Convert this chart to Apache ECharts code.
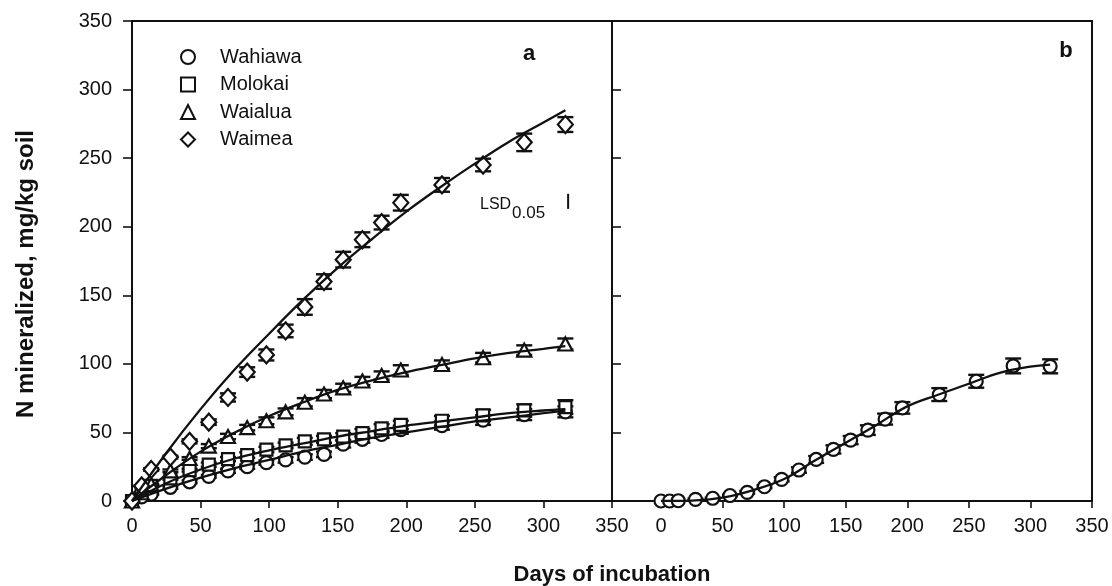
<!DOCTYPE html>
<html><head><meta charset="utf-8">
<script src="https://cdn.jsdelivr.net/npm/echarts@6/dist/echarts.min.js"></script>
<style>html,body{margin:0;padding:0;background:#fff}#c{width:1112px;height:586px}</style>
</head><body><div id="c"></div>
<script>
// ---- data ----
const days = [0,7,14,28,42,56,70,84,98,112,126,140,154,168,182,196,226,256,286,316];
const wahiawa = [0,3,5,10,14,18,22,25,28,30,32,34,41.5,45,48.5,52,55,59,63,65];
const molokai = [0,6,11,16.5,22.5,26.5,30.5,33.5,37.5,40.5,43.5,45,47,49.5,53,55.5,58.5,62.5,66,68.5];
const waialua = [0,6,12,22,31,40,47,53.5,58.5,65,72,78,82.5,87.5,91.5,95.5,99.5,104.5,110,114.5];
const waimea = [0,11,23,32,43.5,57.5,75.5,94,106.5,124,141.5,160,176,190.5,203,217.5,230.5,245,261.5,274.5];
const honokaa = [0,0,0.2,1.2,2,4,6.3,10.4,15.8,22.6,30.3,37.6,44.4,51.7,59.7,67.9,77.6,87.3,98.5,98.2];

const wahiawaErr = [0,0.5,0.5,1,1,1,1.5,1.5,1.5,2,2,2,2.5,2.5,2.5,3,3,3.5,4,4];
const molokaiErr = [0,0.5,0.5,1,1,1.5,1.5,2,2,2,2.5,2.5,2.5,3,3,3,3.5,4,4.5,5];
const waialuaErr = [0,0.5,0.5,1,1,1.5,2,2,2.5,2.5,3,3,3,3,3,3.5,3,3.5,3.5,4];
const waimeaErr = [0,0.5,1,1,1.5,2,3,3.5,4,4.6,5.7,5.3,5.7,5.4,5,5.7,5,4.6,6.4,5.4];
const honokaaErr = [0,0,0,0.5,0.5,0.5,1,1,1.5,2,2.5,3,3,3.5,4,4.2,4.7,4.7,5.4,5.1];

const curveDays = [0,25,50,75,100,125,150,175,200,225,250,275,300,316];
const wahiawaFit = [0,9,17,24,30,36,41,46,50,54,58,61,64,66];
const molokaiFit = [0,13,23,31,37,42,47,51,55,58,61,64,66,67];
const waialuaFit = [0,19,36,50,62,72,81,88,94,99,104,108,111,113];
const waimeaFit = [0,35,67,96,122,147,170,191,211,229,246,262,276,285];
const honokaaFit = [0,0.3,2.5,8,16,29.5,42.5,55.5,69,77.5,85.5,93.5,98,99.5];

const lsdBar = [[318, 218.5, 5.5]]; // day, centre, half-length

const xTicks = [0,50,100,150,200,250,300,350];
const yTicks = [0,50,100,150,200,250,300,350];

// ---- chart ----
const FONT = '"Liberation Sans", Arial, sans-serif';
const INK = '#111';
const chart = echarts.init(document.getElementById('c'));

function pairs(xs, ys){ return xs.map((x,i)=>[x, ys[i]]); }

function errSeries(xi, vals, errs){
  return {
    type:'custom', xAxisIndex:xi, yAxisIndex:xi, z:2, silent:true,
    data: days.map((d,i)=>[d, vals[i], errs[i]]),
    encode:{x:0, y:1},
    renderItem:(params, api)=>{
      const x = api.value(0), y = api.value(1), e = api.value(2);
      if (!e) return null;
      const t = api.coord([x, y+e]), b = api.coord([x, y-e]);
      const hw = 8;
      const st = {stroke:INK, lineWidth:2.4};
      return {type:'group', children:[
        {type:'line', shape:{x1:t[0],y1:t[1],x2:b[0],y2:b[1]}, style:st},
        {type:'line', shape:{x1:t[0]-hw,y1:t[1],x2:t[0]+hw,y2:t[1]}, style:st},
        {type:'line', shape:{x1:b[0]-hw,y1:b[1],x2:b[0]+hw,y2:b[1]}, style:st}
      ]};
    }
  };
}
function pts(name, xi, vals, symbol, size){
  return {
    name, type:'scatter', xAxisIndex:xi, yAxisIndex:xi, z:3, silent:true,
    symbol, symbolSize:size,
    itemStyle:{color:'#fff', borderColor:INK, borderWidth:2.2, opacity:1},
    data: pairs(days, vals)
  };
}
function fit(xi, vals){
  return {
    type:'line', xAxisIndex:xi, yAxisIndex:xi, z:4, silent:true,
    smooth:0.4, showSymbol:false, symbol:'none',
    lineStyle:{color:INK, width:2.3},
    data: pairs(curveDays, vals)
  };
}

const axisLabel = {fontSize:20, color:INK, fontFamily:FONT};
const lineSt = {color:INK, width:2};

const option = {
  animation:false,
  backgroundColor:'#fff',
  grid:[
    {left:132, top:21, width:480, height:480, show:true, borderColor:INK, borderWidth:2, backgroundColor:'transparent'},
    {left:612, top:21, width:480, height:480, show:true, borderColor:INK, borderWidth:2, backgroundColor:'transparent'},
    {left:661, top:21, width:431, height:480, show:false}
  ],
  xAxis:[
    {gridIndex:0, type:'value', min:xTicks[0], max:xTicks[xTicks.length-1], interval:50,
     axisLine:{show:true, onZero:false, lineStyle:lineSt}, axisTick:{show:true, length:7, lineStyle:{color:INK,width:1.6}},
     axisLabel:Object.assign({margin:15}, axisLabel), splitLine:{show:false}},
    {gridIndex:1, type:'value', min:-40, max:350,
     axisLine:{show:true, onZero:false, lineStyle:lineSt}, axisTick:{show:false}, axisLabel:{show:false}, splitLine:{show:false}},
    {gridIndex:2, type:'value', min:xTicks[0], max:xTicks[xTicks.length-1], interval:50,
     axisLine:{show:false, onZero:false}, axisTick:{show:true, length:7, lineStyle:{color:INK,width:1.6}},
     axisLabel:Object.assign({margin:15}, axisLabel), splitLine:{show:false}}
  ],
  yAxis:[
    {gridIndex:0, type:'value', min:yTicks[0], max:yTicks[yTicks.length-1], interval:50,
     axisLine:{show:true, onZero:false, lineStyle:lineSt}, axisTick:{show:true, length:9, lineStyle:{color:INK,width:1.6}},
     axisLabel:Object.assign({margin:20}, axisLabel), splitLine:{show:false}},
    {gridIndex:1, type:'value', min:yTicks[0], max:yTicks[yTicks.length-1], interval:50,
     axisLine:{show:true, onZero:false, lineStyle:lineSt}, axisTick:{show:true, inside:true, length:9, lineStyle:{color:INK,width:1.6}},
     axisLabel:{show:false}, splitLine:{show:false}},
    {gridIndex:2, type:'value', min:yTicks[0], max:yTicks[yTicks.length-1], show:false, axisLine:{onZero:false}}
  ],
  legend:{
    data:['Wahiawa','Molokai','Waialua','Waimea'],
    orient:'vertical', left:175, top:42, itemWidth:14, itemHeight:14, itemGap:7.5,
    selectedMode:false,
    formatter: n => '{g|}' + n,
    textStyle:{fontSize:20, color:INK, fontFamily:FONT, rich:{g:{width:20}}}
  },
  graphic:[
    {type:'text', x:529, y:54, style:{text:'a', font:'bold 22px '+FONT, fill:INK, textAlign:'center', textVerticalAlign:'middle'}},
    {type:'text', x:1066, y:51, style:{text:'b', font:'bold 22px '+FONT, fill:INK, textAlign:'center', textVerticalAlign:'middle'}},
    {type:'text', x:480, y:205, style:{text:'LSD', font:'16px '+FONT, fill:INK, textAlign:'left', textVerticalAlign:'middle'}},
    {type:'text', x:512, y:213, style:{text:'0.05', font:'17px '+FONT, fill:INK, textAlign:'left', textVerticalAlign:'middle'}},
    {type:'text', x:26, y:274, rotation:Math.PI/2, style:{text:'N mineralized, mg/kg soil', font:'bold 24px '+FONT, fill:INK, textAlign:'center', textVerticalAlign:'middle'}},
    {type:'text', x:612, y:575, style:{text:'Days of incubation', font:'bold 22px '+FONT, fill:INK, textAlign:'center', textVerticalAlign:'middle'}}
  ],
  series:[
    errSeries(0, wahiawa, wahiawaErr),
    errSeries(0, molokai, molokaiErr),
    errSeries(0, waialua, waialuaErr),
    errSeries(0, waimea, waimeaErr),
    pts('Wahiawa', 0, wahiawa, 'circle', 13),
    pts('Molokai', 0, molokai, 'rect', 12),
    pts('Waialua', 0, waialua, 'triangle', [14,13]),
    pts('Waimea', 0, waimea, 'diamond', [15,17]),
    fit(0, wahiawaFit), fit(0, molokaiFit), fit(0, waialuaFit), fit(0, waimeaFit),
    {type:'custom', xAxisIndex:0, yAxisIndex:0, z:4, silent:true, data:lsdBar, encode:{x:0,y:1},
     renderItem:(p, api)=>{
       const x=api.value(0), c=api.value(1), h=api.value(2);
       const t=api.coord([x,c+h]), b=api.coord([x,c-h]);
       return {type:'line', shape:{x1:t[0],y1:t[1],x2:b[0],y2:b[1]}, style:{stroke:INK, lineWidth:2}};
     }},
    errSeries(2, honokaa, honokaaErr),
    pts('Honokaa', 2, honokaa, 'circle', 13),
    fit(2, honokaaFit)
  ]
};
chart.setOption(option);
</script>
</body></html>
